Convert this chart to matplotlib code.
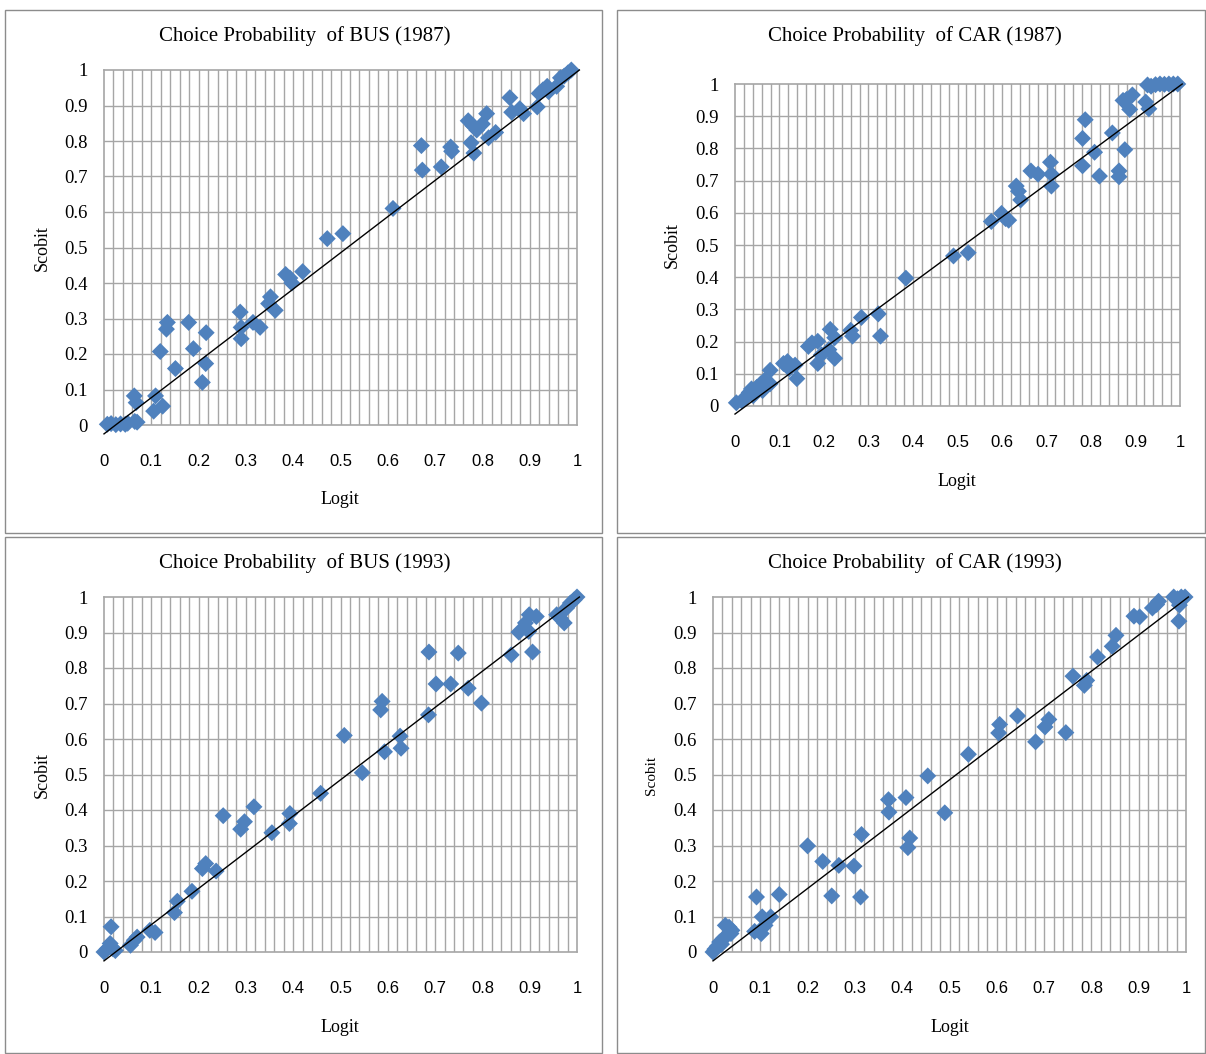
import matplotlib
matplotlib.use('Agg')
import matplotlib.pyplot as plt
from matplotlib.patches import Rectangle

# ============================================================
# data
# ============================================================
bus87_logit = [0.007, 0.015, 0.025, 0.035, 0.045, 0.05, 0.065, 0.07, 0.064, 0.068,
               0.109, 0.105, 0.124, 0.119, 0.134, 0.132, 0.151, 0.179, 0.189,
               0.208, 0.215, 0.216, 0.288, 0.29, 0.29, 0.315, 0.33, 0.352, 0.348, 0.362,
               0.384, 0.393, 0.397, 0.42, 0.472, 0.505, 0.611, 0.671, 0.673, 0.713,
               0.733, 0.735, 0.77, 0.78, 0.788, 0.776, 0.782, 0.8, 0.809, 0.813, 0.828,
               0.858, 0.862, 0.879, 0.887, 0.916, 0.92, 0.928, 0.937, 0.94, 0.957,
               0.965, 0.973, 0.981, 0.988]
bus87_scobit = [0.002, 0.004, 0.001, 0.003, 0.002, 0.005, 0.01, 0.008, 0.082, 0.063,
                0.082, 0.039, 0.053, 0.207, 0.289, 0.27, 0.159, 0.289, 0.215,
                0.12, 0.173, 0.26, 0.318, 0.275, 0.243, 0.289, 0.275, 0.361, 0.342, 0.323,
                0.424, 0.414, 0.4, 0.432, 0.525, 0.539, 0.61, 0.787, 0.718, 0.727,
                0.783, 0.771, 0.857, 0.843, 0.831, 0.795, 0.766, 0.848, 0.877, 0.809, 0.824,
                0.922, 0.881, 0.891, 0.877, 0.896, 0.934, 0.944, 0.954, 0.939, 0.954,
                0.978, 0.983, 0.992, 1.0]

car87_logit = [0.003, 0.015, 0.024, 0.032, 0.037, 0.041, 0.049, 0.058, 0.062, 0.066,
               0.071, 0.079, 0.079, 0.109, 0.118, 0.122, 0.135, 0.139,
               0.165, 0.173, 0.186, 0.186, 0.194, 0.211, 0.214, 0.224, 0.224,
               0.26, 0.264, 0.284, 0.322, 0.327, 0.384, 0.491, 0.524,
               0.576, 0.599, 0.608, 0.615, 0.632, 0.637, 0.642,
               0.665, 0.681, 0.709, 0.711, 0.711, 0.781, 0.787, 0.781, 0.808, 0.819,
               0.848, 0.863, 0.863, 0.876, 0.872, 0.88, 0.893, 0.887, 0.923, 0.93,
               0.927, 0.935, 0.945, 0.955, 0.965, 0.975, 0.985, 0.995]
car87_scobit = [0.01, 0.016, 0.026, 0.042, 0.053, 0.032, 0.058, 0.069, 0.048, 0.079,
                0.063, 0.111, 0.069, 0.132, 0.138, 0.116, 0.127, 0.085,
                0.185, 0.196, 0.201, 0.132, 0.159, 0.175, 0.238, 0.212, 0.148,
                0.235, 0.217, 0.275, 0.286, 0.217, 0.397, 0.466, 0.476,
                0.573, 0.598, 0.582, 0.577, 0.683, 0.667, 0.64,
                0.73, 0.72, 0.757, 0.72, 0.683, 0.831, 0.889, 0.746, 0.788, 0.714,
                0.848, 0.73, 0.712, 0.796, 0.949, 0.952, 0.966, 0.921, 0.944, 0.923,
                0.997, 0.993, 0.998, 1.0, 0.999, 1.0, 1.0, 1.0]

bus93_logit = [0.0, 0.007, 0.013, 0.015, 0.019, 0.024, 0.056, 0.064, 0.07, 0.097, 0.108,
               0.149, 0.155, 0.186, 0.208, 0.215, 0.237, 0.252, 0.289, 0.297, 0.317,
               0.355, 0.392, 0.393, 0.458, 0.508, 0.546, 0.585, 0.588, 0.593,
               0.626, 0.628, 0.686, 0.687, 0.702, 0.733, 0.749, 0.77, 0.798,
               0.861, 0.877, 0.891, 0.899, 0.914, 0.898, 0.906,
               0.957, 0.965, 0.973, 0.978, 0.986, 0.994, 1.0]
bus93_scobit = [0.0, 0.009, 0.024, 0.071, 0.009, 0.004, 0.019, 0.033, 0.042, 0.061, 0.055,
                0.111, 0.143, 0.171, 0.235, 0.249, 0.228, 0.384, 0.346, 0.367, 0.409,
                0.336, 0.362, 0.39, 0.447, 0.61, 0.505, 0.682, 0.706, 0.564,
                0.608, 0.574, 0.668, 0.845, 0.755, 0.755, 0.842, 0.743, 0.701,
                0.837, 0.901, 0.927, 0.95, 0.945, 0.903, 0.845,
                0.95, 0.94, 0.927, 0.969, 0.983, 0.992, 1.0]

car93_logit = [0.0, 0.004, 0.009, 0.014, 0.018, 0.022, 0.026, 0.03, 0.034, 0.038, 0.04,
               0.088, 0.092, 0.102, 0.104, 0.11, 0.122, 0.14,
               0.2, 0.232, 0.251, 0.266, 0.298, 0.312, 0.314,
               0.371, 0.372, 0.408, 0.416, 0.412, 0.454, 0.49, 0.54,
               0.604, 0.606, 0.644, 0.682, 0.702, 0.71, 0.746,
               0.761, 0.785, 0.79, 0.813, 0.844, 0.852, 0.89, 0.902,
               0.929, 0.938, 0.942, 0.974, 0.982, 0.986, 0.985, 0.99, 0.998]
car93_scobit = [0.0, 0.008, 0.016, 0.028, 0.022, 0.038, 0.075, 0.047, 0.07, 0.052, 0.061,
                0.058, 0.155, 0.052, 0.099, 0.075, 0.099, 0.162,
                0.299, 0.255, 0.158, 0.244, 0.242, 0.155, 0.331,
                0.429, 0.394, 0.435, 0.321, 0.294, 0.496, 0.392, 0.557,
                0.617, 0.641, 0.665, 0.592, 0.634, 0.655, 0.618,
                0.777, 0.751, 0.765, 0.831, 0.861, 0.892, 0.946, 0.944,
                0.969, 0.979, 0.988, 1.0, 0.995, 0.977, 0.932, 1.0, 1.0]

titles = ['Choice Probability  of BUS (1987)', 'Choice Probability  of CAR (1987)',
          'Choice Probability  of BUS (1993)', 'Choice Probability  of CAR (1993)']
tick_vals = [0, 0.1, 0.2, 0.3, 0.4, 0.5, 0.6, 0.7, 0.8, 0.9, 1]
tick_labels = ['0', '0.1', '0.2', '0.3', '0.4', '0.5', '0.6', '0.7', '0.8', '0.9', '1']
fit_x = [0, 1.005]
fit_y = [-0.025, 1.0]

# ============================================================
# layout (pixel positions of the original picture)
# ============================================================
W, H = 1206, 1054
fig = plt.figure(figsize=(W / 100, H / 100), dpi=100)
serif = 'Liberation Serif'
sans = 'Liberation Sans'
blue = '#4F81BD'
grid_c = '#a6a6a6'


def fx(px):
    return px / W


def fy(py):
    return 1 - py / H


# frame boxes (x0, y0, x1, y1)
boxes = [(5, 10, 602, 533), (617, 10, 1205, 533), (5, 537, 602, 1053), (617, 537, 1205, 1053)]
# axes: x0, x1, y_top(=1), y_bottom(=0)
axes_px = [(104, 577, 70, 425), (735, 1180, 84, 406), (104, 577, 597, 952), (713, 1186, 597, 952)]
title_px = [(305, 36), (915, 36), (305, 563), (915, 563)]
ylab_px = [(42, 248, 13), (672, 245, 13), (42, 775, 13), (651, 775, 11)]
xlab_px = [(340, 500), (957, 482), (340, 1027), (950, 1027)]

data = [(bus87_logit, bus87_scobit), (car87_logit, car87_scobit),
        (bus93_logit, bus93_scobit), (car93_logit, car93_scobit)]

for i in range(4):
    x0, y0, x1, y1 = boxes[i]
    fig.add_artist(Rectangle((fx(x0), fy(y1)), fx(x1 - x0), (y1 - y0) / H,
                             transform=fig.transFigure, fill=False,
                             edgecolor='#8c8c8c', linewidth=1))

    ax0, ax1, ayt, ayb = axes_px[i]
    ax = fig.add_axes([fx(ax0), fy(ayb), fx(ax1 - ax0), (ayb - ayt) / H])
    ax.set_xlim(0, 1)
    ax.set_ylim(0, 1)

    # excel style grid: fine verticals, 0.1 horizontals
    for k in range(1, 50):
        ax.axvline(k * 0.02, color=grid_c, linewidth=1, zorder=0)
    for k in range(1, 10):
        ax.axhline(k * 0.1, color=grid_c, linewidth=1, zorder=0)
    for s in ax.spines.values():
        s.set_color(grid_c)
        s.set_linewidth(1.2)

    lx, ly = data[i]
    ax.scatter(lx, ly, marker='D', s=75, color=blue, edgecolors='none', zorder=3, clip_on=False)
    ax.plot(fit_x, fit_y, color='black', linewidth=1, zorder=4, clip_on=False)

    ax.set_xticks(tick_vals)
    ax.set_xticklabels(tick_labels, fontfamily=sans, fontsize=12)
    ax.set_yticks(tick_vals)
    ax.set_yticklabels(tick_labels, fontfamily=serif, fontsize=13.5)
    ax.tick_params(axis='y', length=0, pad=12)
    ax.tick_params(axis='x', length=0, pad=21)

    tx, ty = title_px[i]
    fig.text(fx(tx), fy(ty), titles[i], fontfamily=serif, fontsize=15,
             ha='center', va='center')
    yx, yy, ys = ylab_px[i]
    fig.text(fx(yx), fy(yy), 'Scobit', fontfamily=serif, fontsize=ys,
             rotation=90, ha='center', va='center')
    lx_, ly_ = xlab_px[i]
    fig.text(fx(lx_), fy(ly_), 'Logit', fontfamily=serif, fontsize=13,
             ha='center', va='center')

fig.savefig('out.png', dpi=100)
